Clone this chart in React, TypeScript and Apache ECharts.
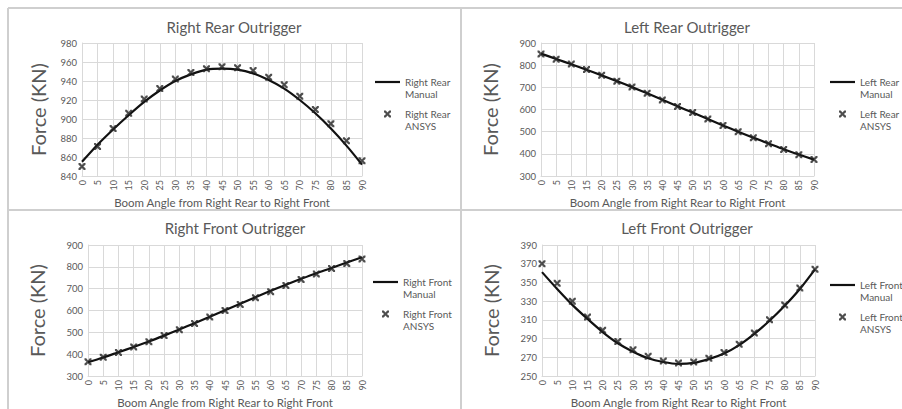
import React, { useEffect, useRef } from "react";
import * as echarts from "echarts";

const angles = ["0","5","10","15","20","25","30","35","40","45","50","55","60","65","70","75","80","85","90"];

const rightRearManual = [855,873,889,904,918,930,940,947,952,953,952,948,941,932,920,906,890,872,852];
const rightRearAnsys = [850,871,890,906,921,932,942,949,953,955,954,951,944,936,924,910,895,877,856];

const leftRearManual = [852,828,804,779,754,728,701,673,644,615,586,557,528,500,473,447,421,397,374];
const leftRearAnsys = [850,827,805,780,755,728,702,673,643,614,586,557,528,500,472,446,420,396,375];

const rightFrontManual = [363,385,409,433,458,485,513,542,571,601,631,661,690,718,745,771,795,820,844];
const rightFrontAnsys = [365,386,408,433,457,485,512,540,570,600,628,658,686,715,742,767,792,815,836];

const leftFrontManual = [361,343,326,311,297,285,276,269,265,263,264,268,274,283,295,309,325,343,364];
const leftFrontAnsys = [370,349,330,313,299,287,278,271,266,264,265,269,275,284,296,310,326,344,364];

const panels = [
  { title: "Right Rear Outrigger", label: "Right Rear", manual: rightRearManual, ansys: rightRearAnsys, min: 840, max: 980, interval: 20 },
  { title: "Left Rear Outrigger", label: "Left Rear", manual: leftRearManual, ansys: leftRearAnsys, min: 300, max: 900, interval: 100 },
  { title: "Right Front Outrigger", label: "Right Front", manual: rightFrontManual, ansys: rightFrontAnsys, min: 300, max: 900, interval: 100 },
  { title: "Left Front Outrigger", label: "Left Front", manual: leftFrontManual, ansys: leftFrontAnsys, min: 250, max: 390, interval: 20 },
];

const grids = [
  { left: 82, top: 43, width: 280, height: 133 },
  { left: 541, top: 43, width: 273, height: 133 },
  { left: 88, top: 245, width: 274, height: 133 },
  { left: 542, top: 245, width: 273, height: 133 },
];
const yNameGap = [34, 41, 41, 41];
const titlePos = [
  { x: 234, y: 19 },
  { x: 687, y: 19 },
  { x: 235, y: 220 },
  { x: 687, y: 220 },
];
const legendPos = [
  { x: 375, y: 64 },
  { x: 830, y: 64 },
  { x: 373, y: 264 },
  { x: 830, y: 267 },
];

const FONT = "Lato, 'Open Sans', sans-serif";
const GRAY = "#595959";
const GRID = "#d9d9d9";
const XPATH = "path://M0,0 L2.5,0 L5,3 L7.5,0 L10,0 L10,2.5 L7,5 L10,7.5 L10,10 L7.5,10 L5,7 L2.5,10 L0,10 L0,7.5 L3,5 L0,2.5 Z";
const LINEICON = "path://M0,0 L25,0 L25,2.2 L0,2.2 Z";

export default function App() {
  const ref = useRef<HTMLDivElement>(null);
  useEffect(() => {
    if (!ref.current) return;
    const chart = echarts.init(ref.current, undefined, { renderer: "svg" });
    const series: any[] = [];
    panels.forEach((p, i) => {
      series.push({
        name: p.label + " Manual",
        type: "line",
        xAxisIndex: i,
        yAxisIndex: i,
        data: p.manual,
        symbol: "none",
        smooth: 0.3,
        lineStyle: { color: "#111", width: 2.2 },
        itemStyle: { color: "#111" },
        z: 2,
      });
      series.push({
        name: p.label + " ANSYS",
        type: "scatter",
        xAxisIndex: i,
        yAxisIndex: i,
        data: p.ansys,
        symbol: XPATH,
        symbolSize: 7,
        itemStyle: { color: "#222" },
        z: 3,
      });
    });
    const lineColor = "#cfcfcf";
    const option: any = {
      animation: false,
      textStyle: { fontFamily: FONT },
      title: panels.map((p, i) => ({
        text: p.title,
        left: titlePos[i].x,
        top: titlePos[i].y,
        textAlign: "center",
        padding: 0,
        textStyle: { fontSize: 15, fontWeight: "normal", color: GRAY, fontFamily: FONT },
      })),
      grid: grids.map((g) => ({ ...g, containLabel: false })),
      legend: panels.map((p, i) => ({
        left: legendPos[i].x,
        top: legendPos[i].y,
        orient: "vertical",
        padding: 0,
        itemWidth: 25,
        itemHeight: 7,
        itemGap: -4,
        data: [
          { name: p.label + " Manual", icon: LINEICON, itemStyle: { color: "#111" } },
          { name: p.label + " ANSYS" },
        ],
        formatter: (n: string) => "\n" + n.replace(/ (Manual|ANSYS)$/, "\n$1"),
        textStyle: { fontSize: 10, color: GRAY, lineHeight: 12, fontFamily: FONT },
      })),
      xAxis: panels.map((p, i) => ({
        type: "category",
        gridIndex: i,
        data: angles,
        boundaryGap: false,
        axisLine: { show: true, lineStyle: { color: GRID } },
        axisTick: { show: false },
        splitLine: { show: true, lineStyle: { color: GRID } },
        axisLabel: { rotate: 90, fontSize: 9, color: GRAY, margin: 4, interval: 0, fontFamily: FONT },
        name: "Boom Angle from Right Rear to Right Front",
        nameLocation: "middle",
        nameGap: 20,
        nameTextStyle: { fontSize: 11.5, color: GRAY, fontFamily: FONT },
      })),
      yAxis: panels.map((p, i) => ({
        type: "value",
        gridIndex: i,
        min: p.min,
        max: p.max,
        interval: p.interval,
        axisLine: { show: true, lineStyle: { color: GRID } },
        axisTick: { show: false },
        splitLine: { show: true, lineStyle: { color: GRID } },
        axisLabel: { fontSize: 9.5, color: GRAY, margin: 5, fontFamily: FONT },
        name: "Force (KN)",
        nameLocation: "middle",
        nameGap: yNameGap[i],
        nameTextStyle: { fontSize: 20, color: GRAY, fontFamily: FONT },
      })),
      series,
      graphic: [
        { type: "line", shape: { x1: 8, y1: 8, x2: 902, y2: 8 }, style: { stroke: lineColor, lineWidth: 2 } },
        { type: "line", shape: { x1: 8, y1: 8, x2: 8, y2: 409 }, style: { stroke: lineColor, lineWidth: 2 } },
        { type: "line", shape: { x1: 461, y1: 8, x2: 461, y2: 409 }, style: { stroke: lineColor, lineWidth: 2 } },
        { type: "line", shape: { x1: 8, y1: 210, x2: 902, y2: 210 }, style: { stroke: lineColor, lineWidth: 2 } },
      ],
    };
    chart.setOption(option);
    return () => chart.dispose();
  }, []);
  return <div ref={ref} style={{ position: "absolute", left: 0, top: 0, width: 902, height: 409 }} />;
}
